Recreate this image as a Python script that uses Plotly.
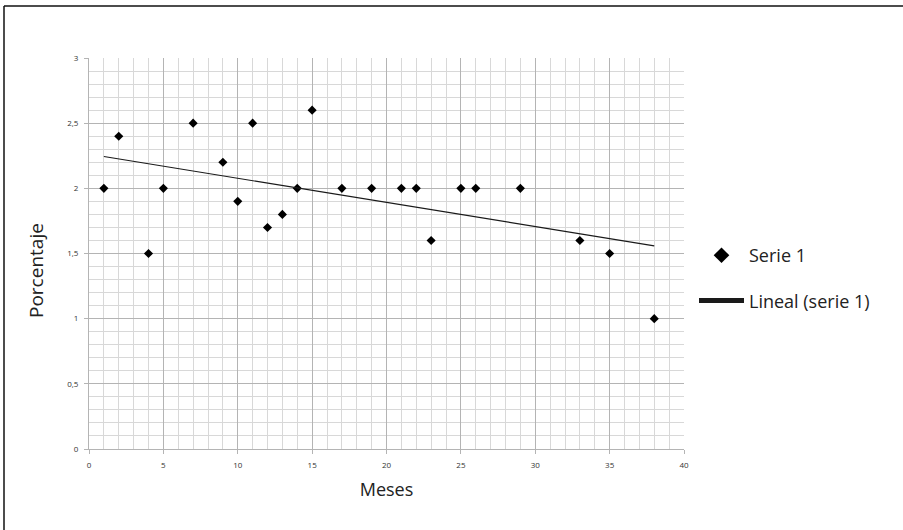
import numpy as np
import plotly.graph_objects as go

# Meses y porcentaje observados (serie 1)
meses = [1, 2, 4, 5, 7, 9, 10, 11, 12, 13, 14, 15, 17, 19, 21, 22, 23, 25, 26, 29, 33, 35, 38]
porcentaje = [2.0, 2.4, 1.5, 2.0, 2.5, 2.2, 1.9, 2.5, 1.7, 1.8, 2.0, 2.6, 2.0, 2.0, 2.0,
              2.0, 1.6, 2.0, 2.0, 2.0, 1.6, 1.5, 1.0]

x_ticks = [0, 5, 10, 15, 20, 25, 30, 35, 40]
y_ticks = [0, 0.5, 1, 1.5, 2, 2.5, 3]

# Tendencia lineal por mínimos cuadrados
pendiente, intercepto = np.polyfit(meses, porcentaje, 1)
x_tend = [min(meses), max(meses)]
y_tend = [pendiente * v + intercepto for v in x_tend]

W, H = 903, 530
ML, MR, MT, MB = 89, 219, 58, 81
PW, PH = W - ML - MR, H - MT - MB

fig = go.Figure()
fig.add_trace(go.Scatter(
    x=meses, y=porcentaje, mode="markers", name="Serie 1",
    marker=dict(symbol="diamond", size=7, color="#000000"),
    legendgroup="a",
))
fig.add_trace(go.Scatter(
    x=x_tend, y=y_tend, mode="lines", name="Lineal (serie 1)",
    line=dict(color="#1a1a1a", width=1.1),
    legendgroup="b",
))

tick_font = dict(family="Open Sans, sans-serif", size=8, color="#333333")
title_font = dict(family="Open Sans, sans-serif", size=18, color="#222222")

fig.update_xaxes(
    range=[0, 40], tickvals=x_ticks, ticktext=[str(v) for v in x_ticks],
    showgrid=True, gridcolor="#b4b4b4", gridwidth=1,
    minor=dict(dtick=1, showgrid=True, gridcolor="#d8d8d8", gridwidth=1),
    showline=True, linecolor="#b4b4b4", linewidth=1, mirror=False,
    ticks="outside", ticklen=4, tickcolor="#b4b4b4",
    tickfont=tick_font, ticklabelstandoff=4,
    zeroline=False,
    title=dict(text="Meses", font=title_font, standoff=14),
)
fig.update_yaxes(
    range=[0, 3], tickvals=y_ticks,
    showgrid=True, gridcolor="#b4b4b4", gridwidth=1,
    minor=dict(dtick=0.1, showgrid=True, gridcolor="#d8d8d8", gridwidth=1),
    showline=True, linecolor="#b4b4b4", linewidth=1,
    ticks="outside", ticklen=4, tickcolor="#b4b4b4",
    tickfont=tick_font, ticklabelstandoff=4,
    zeroline=False,
)

# Título del eje vertical
fig.add_annotation(
    text="Porcentaje", textangle=-90, showarrow=False,
    xref="paper", yref="paper", x=(36 - ML) / PW, y=(H - MB - 271) / PH,
    xanchor="center", yanchor="middle",
    font=dict(family="Open Sans, sans-serif", size=19, color="#222222"),
)

# Marco exterior del gráfico (solo bordes superior e izquierdo visibles)
x0 = (4 - ML) / PW
y1 = (H - 6 - MB) / PH
fig.add_shape(type="line", xref="paper", yref="paper", x0=x0, x1=(W + 10 - ML) / PW,
              y0=y1, y1=y1, line=dict(color="#111111", width=1.5))
fig.add_shape(type="line", xref="paper", yref="paper", x0=x0, x1=x0,
              y0=y1, y1=(-10 - MB) / PH, line=dict(color="#111111", width=1.5))

fig.update_layout(
    width=W, height=H,
    margin=dict(l=ML, r=MR, t=MT, b=MB),
    paper_bgcolor="#ffffff", plot_bgcolor="#ffffff",
    separators=", ",
    showlegend=True,
    legend=dict(
        x=(694 - ML) / PW, y=(H - 237 - MB) / PH, xanchor="left", yanchor="top",
        font=dict(family="Open Sans, sans-serif", size=18, color="#222222"),
        traceorder="grouped", tracegroupgap=19, itemsizing="constant",
        itemwidth=45, bgcolor="rgba(0,0,0,0)",
    ),
)

fig.write_html("out.html")
